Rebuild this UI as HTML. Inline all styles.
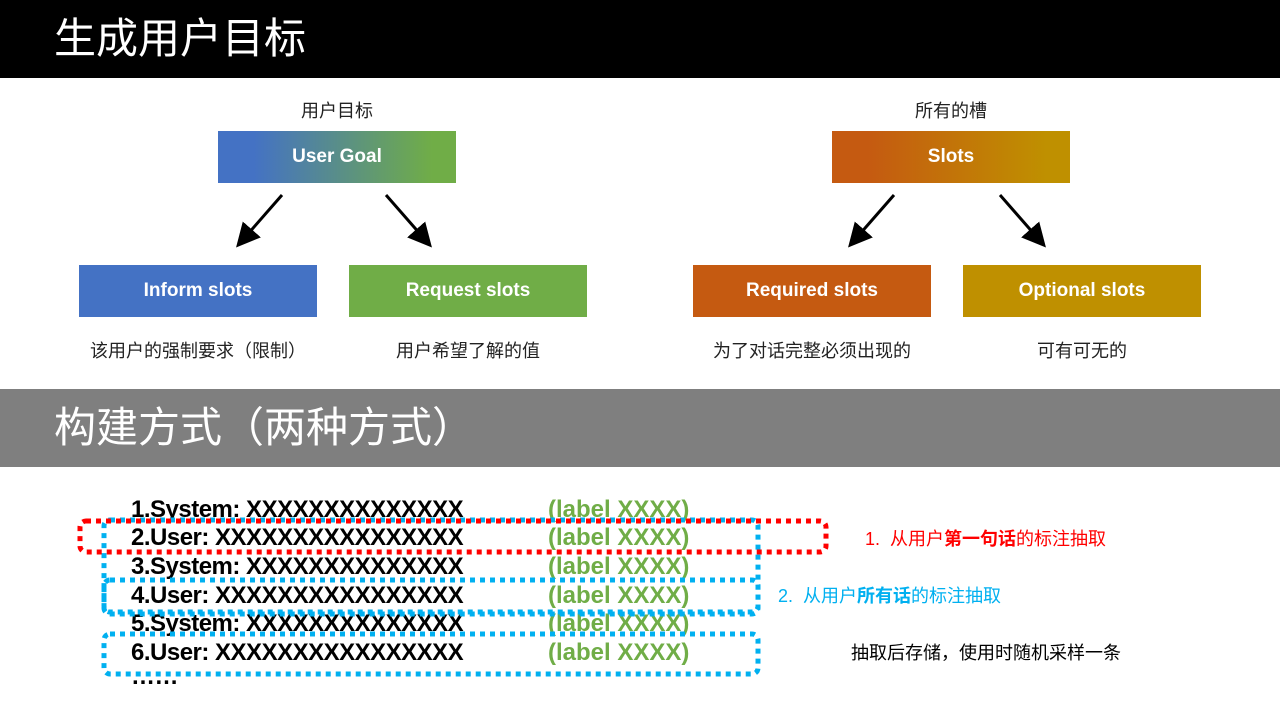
<!DOCTYPE html>
<html><head><meta charset="utf-8"><style>
body{margin:0;width:1280px;height:720px;position:relative;background:#fff;font-family:"Liberation Sans","Noto Sans CJK SC",sans-serif;overflow:hidden}
.a{position:absolute}
.bar{left:0;width:1280px;height:78px;color:#fff;font-size:42px;line-height:78px;padding-left:54px;box-sizing:border-box}
.box{height:52px;width:238px;color:#fff;font-weight:bold;font-size:19px;line-height:52px;text-align:center}
.cap{font-size:18px;text-align:center;width:300px;color:#222}
.ln{left:131px;font-size:24px;font-weight:bold;color:#000;line-height:28px;letter-spacing:-0.5px}
.lb{left:548px;font-size:24px;font-weight:bold;color:#70ad47;line-height:28px}
</style></head><body>
<div class="a bar" style="top:0;background:#000">生成用户目标</div>
<div class="a bar" style="top:389px;background:#7f7f7f">构建方式（两种方式）</div>

<div class="a cap" style="left:187px;top:97px">用户目标</div>
<div class="a cap" style="left:801px;top:97px">所有的槽</div>
<div class="a box" style="left:218px;top:131px;background:linear-gradient(90deg,#4472c4 15%,#70ad47 90%)">User Goal</div>
<div class="a box" style="left:832px;top:131px;background:linear-gradient(90deg,#c55a11 15%,#bf9000 90%)">Slots</div>
<div class="a box" style="left:79px;top:265px;background:#4472c4">Inform slots</div>
<div class="a box" style="left:349px;top:265px;background:#70ad47">Request slots</div>
<div class="a box" style="left:693px;top:265px;background:#c55a11">Required slots</div>
<div class="a box" style="left:963px;top:265px;background:#bf9000">Optional slots</div>
<div class="a cap" style="left:48px;top:337px">该用户的强制要求（限制）</div>
<div class="a cap" style="left:318px;top:337px">用户希望了解的值</div>
<div class="a cap" style="left:662px;top:337px">为了对话完整必须出现的</div>
<div class="a cap" style="left:932px;top:337px">可有可无的</div>
<svg class="a" style="left:0;top:0" width="1280" height="400">
<defs><marker id="m" markerWidth="8" markerHeight="8" refX="6" refY="4" orient="auto"><path d="M0,0L8,4L0,8z" fill="#000"/></marker></defs>
<g stroke="#000" stroke-width="3" marker-end="url(#m)">
<line x1="282" y1="195" x2="240" y2="243"/><line x1="386" y1="195" x2="428" y2="243"/>
<line x1="894" y1="195" x2="852" y2="243"/><line x1="1000" y1="195" x2="1042" y2="243"/>
</g></svg>

<div class="a ln" style="top:496px">1.System: XXXXXXXXXXXXXX</div>
<div class="a ln" style="top:524px">2.User: XXXXXXXXXXXXXXXX</div>
<div class="a ln" style="top:553px">3.System: XXXXXXXXXXXXXX</div>
<div class="a ln" style="top:582px">4.User: XXXXXXXXXXXXXXXX</div>
<div class="a ln" style="top:610px">5.System: XXXXXXXXXXXXXX</div>
<div class="a ln" style="top:639px">6.User: XXXXXXXXXXXXXXXX</div>
<div class="a ln" style="top:663px">……</div>
<div class="a lb" style="top:496px">(label XXXX)</div>
<div class="a lb" style="top:524px">(label XXXX)</div>
<div class="a lb" style="top:553px">(label XXXX)</div>
<div class="a lb" style="top:582px">(label XXXX)</div>
<div class="a lb" style="top:610px">(label XXXX)</div>
<div class="a lb" style="top:639px">(label XXXX)</div>

<svg class="a" style="left:0;top:0" width="1280" height="720">
<g fill="none" stroke-width="5" stroke-dasharray="5 5">
<rect x="104" y="520" width="654" height="92" rx="6" stroke="#00b0f0"/>
<rect x="104" y="580" width="654" height="34" rx="6" stroke="#00b0f0"/>
<rect x="104" y="634" width="654" height="40" rx="6" stroke="#00b0f0"/>
<rect x="80" y="521" width="746" height="31" rx="6" stroke="#ff0000"/>
</g></svg>

<div class="a" style="left:865px;top:525px;font-size:18px;color:#ff0000">1.&nbsp; 从用户<span style="font-weight:600">第一句话</span>的标注抽取</div>
<div class="a" style="left:778px;top:582px;font-size:18px;color:#00b0f0">2.&nbsp; 从用户<span style="font-weight:600">所有话</span>的标注抽取</div>
<div class="a" style="left:851px;top:639px;font-size:18px;color:#000">抽取后存储，使用时随机采样一条</div>
</body></html>
